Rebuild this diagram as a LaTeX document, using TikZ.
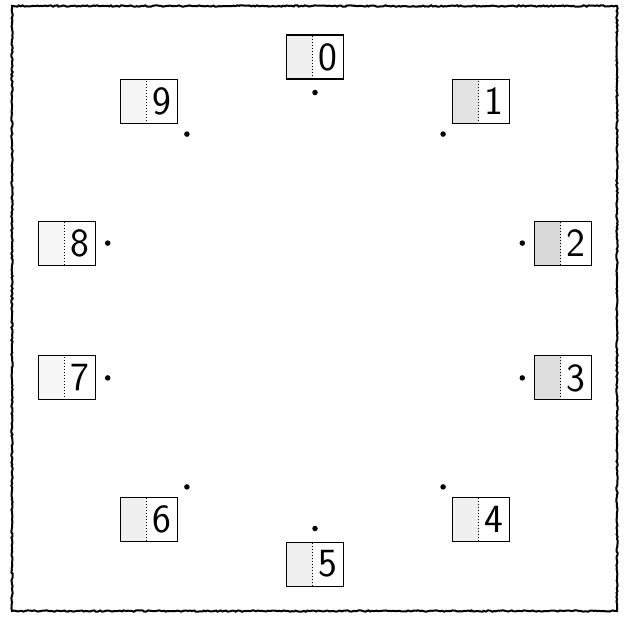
\documentclass[tikz,border=0pt]{standalone}
\usetikzlibrary{calc,decorations.pathmorphing}
\begin{document}
\begin{tikzpicture}[x=1pt,y=-1pt,
  dot/.style={circle, fill=black, inner sep=0pt, minimum size=5.5pt},
  numbox/.style={draw=black, line width=1.1pt, minimum width=57pt, minimum height=44pt,
    inner sep=0pt, font=\sffamily\fontsize{40}{40}\selectfont,
    path picture={
      \fill[black!#1] (path picture bounding box.south west) rectangle
        ([xshift=26pt]path picture bounding box.north west);
      \draw[black, line width=1pt, dotted]
        ([xshift=26pt]path picture bounding box.south west) --
        ([xshift=26pt]path picture bounding box.north west);}},
  numbox/.default=6,
  frame/.style={draw=black, line width=2pt, decorate,
    decoration={random steps, segment length=2pt, amplitude=0.7pt}}
]
\pgfmathsetseed{7}
\useasboundingbox (0,0) rectangle (624,616);
\draw[frame] (12,6) rectangle (617,611);

\node[dot] (p0) at (315,92.5) {};
\node[dot] (p1) at (443.1,134.1) {};
\node[dot] (p2) at (522.3,243.1) {};
\node[dot] (p3) at (522.3,377.9) {};
\node[dot] (p4) at (443.1,486.9) {};
\node[dot] (p5) at (315,528.5) {};
\node[dot] (p6) at (186.9,486.9) {};
\node[dot] (p7) at (107.7,377.9) {};
\node[dot] (p8) at (107.7,243.1) {};
\node[dot] (p9) at (186.9,134.1) {};

\newcommand\nb[1]{\hspace*{26pt}\makebox[31pt]{#1}}
\node[numbox=6,  anchor=south]      (b0) at ($(p0)+(0,-13)$)  {\nb{0}};
\node[numbox=11, anchor=south west] (b1) at ($(p1)+(9,-10)$)  {\nb{1}};
\node[numbox=15, anchor=west]       (b2) at ($(p2)+(12,0)$)   {\nb{2}};
\node[numbox=13, anchor=west]       (b3) at ($(p3)+(12,0)$)   {\nb{3}};
\node[numbox=6,  anchor=north west] (b4) at ($(p4)+(9,10)$)   {\nb{4}};
\node[numbox=6,  anchor=north]      (b5) at ($(p5)+(0,13)$)   {\nb{5}};
\node[numbox=6,  anchor=north east] (b6) at ($(p6)+(-9,10)$)  {\nb{6}};
\node[numbox=3,  anchor=east]       (b7) at ($(p7)+(-12,0)$)  {\nb{7}};
\node[numbox=3,  anchor=east]       (b8) at ($(p8)+(-12,0)$)  {\nb{8}};
\node[numbox=4,  anchor=south east] (b9) at ($(p9)+(-9,-10)$) {\nb{9}};
\end{tikzpicture}
\end{document}
